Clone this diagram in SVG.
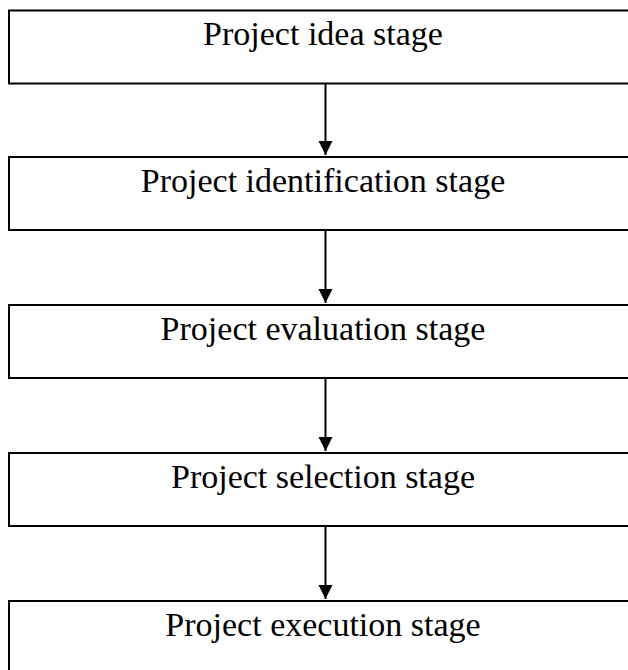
<svg xmlns="http://www.w3.org/2000/svg" width="628" height="670" viewBox="0 0 628 670">
<style>
.box{fill:#fff;stroke:#000;stroke-width:2}
.lbl{font-family:"Liberation Serif","Times New Roman",serif;font-size:34px;fill:#000;text-anchor:middle}
.conn{stroke:#000;stroke-width:2;fill:none}
</style>
<defs>
<marker id="ah" viewBox="0 0 14 15" refX="14" refY="7" markerWidth="14" markerHeight="15" markerUnits="userSpaceOnUse" orient="auto">
<path d="M0,0 L14,7 L0,14 Z" fill="#000"/>
</marker>
</defs>
<rect width="628" height="670" fill="#fff"/>
<g id="n1"><rect class="box" x="9" y="10.5" width="640" height="73"/><text class="lbl" x="323" y="45">Project idea stage</text></g>
<g id="n2"><rect class="box" x="9" y="157" width="640" height="73"/><text class="lbl" x="323" y="192">Project identification stage</text></g>
<g id="n3"><rect class="box" x="9" y="305" width="640" height="73"/><text class="lbl" x="323" y="340">Project evaluation stage</text></g>
<g id="n4"><rect class="box" x="9" y="453" width="640" height="73"/><text class="lbl" x="323" y="488">Project selection stage</text></g>
<g id="n5"><rect class="box" x="9" y="601" width="640" height="73"/><text class="lbl" x="323" y="636">Project execution stage</text></g>
<g id="connectors">
<line class="conn" x1="325.5" y1="84" x2="325.5" y2="155" marker-end="url(#ah)"/>
<line class="conn" x1="325.5" y1="231" x2="325.5" y2="303" marker-end="url(#ah)"/>
<line class="conn" x1="325.5" y1="379" x2="325.5" y2="451" marker-end="url(#ah)"/>
<line class="conn" x1="325.5" y1="527" x2="325.5" y2="599" marker-end="url(#ah)"/>
</g>
</svg>
